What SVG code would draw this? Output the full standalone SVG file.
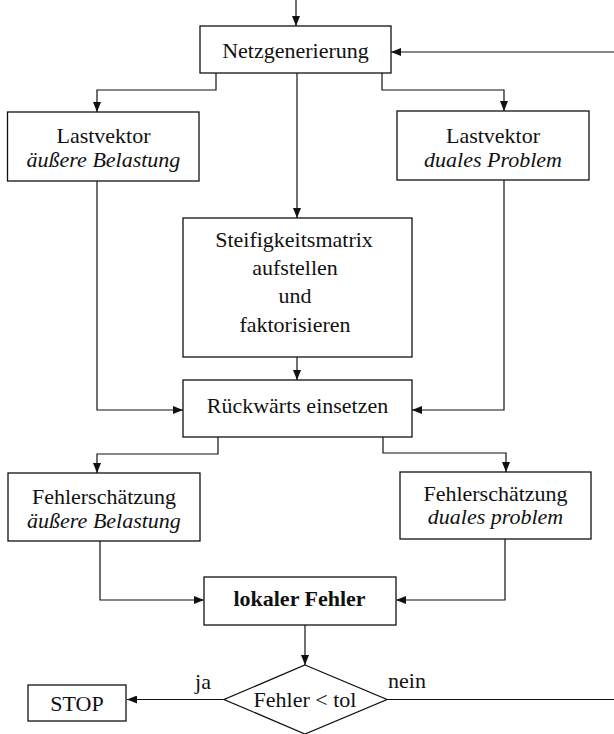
<svg xmlns="http://www.w3.org/2000/svg" width="614" height="734" viewBox="0 0 614 734">
  <style>
    .box { fill: #fff; stroke: #111; stroke-width: 1.3; }
    .wire { fill: none; stroke: #111; stroke-width: 1.2; }
    text { font-family: "Liberation Serif", "Times New Roman", serif; font-size: 22px; fill: #111; text-anchor: middle; }
    .it { font-style: italic; }
    .b { font-weight: bold; }
    .lbl { text-anchor: start; }
  </style>
  <defs>
    <marker id="arrow" viewBox="0 0 10 8" refX="10" refY="4" markerWidth="10" markerHeight="8" markerUnits="userSpaceOnUse" orient="auto">
      <path d="M0,0 L10,4 L0,8 z" fill="#111"/>
    </marker>
  </defs>

  <!-- connectors -->
  <g id="connectors" class="wire">
    <path d="M296,0 V26" marker-end="url(#arrow)"/>
    <path d="M614,52 H391" marker-end="url(#arrow)"/>
    <path d="M216,73 V90 H97 V112" marker-end="url(#arrow)"/>
    <path d="M297,73 V218" marker-end="url(#arrow)"/>
    <path d="M382,73 V90 H504 V111" marker-end="url(#arrow)"/>
    <path d="M97,181 V410 H183" marker-end="url(#arrow)"/>
    <path d="M504,180 V410 H412" marker-end="url(#arrow)"/>
    <path d="M297,357 V380" marker-end="url(#arrow)"/>
    <path d="M218,437 V454 H97 V473" marker-end="url(#arrow)"/>
    <path d="M383,437 V453 H506 V472" marker-end="url(#arrow)"/>
    <path d="M100,541 V600 H204" marker-end="url(#arrow)"/>
    <path d="M505,539 V600 H396" marker-end="url(#arrow)"/>
    <path d="M305,625 V665" marker-end="url(#arrow)"/>
    <path d="M224,699.5 H127" marker-end="url(#arrow)"/>
    <path d="M387,699.5 H614"/>
  </g>

  <g id="netzgenerierung">
    <rect class="box" x="200" y="26" width="191" height="47"/>
    <text x="295.5" y="58">Netzgenerierung</text>
  </g>

  <g id="lastvektor-aussen">
    <rect class="box" x="7.5" y="112" width="191.5" height="69"/>
    <text x="103.5" y="143">Lastvektor</text>
    <text class="it" x="103.5" y="167">äußere Belastung</text>
  </g>

  <g id="lastvektor-dual">
    <rect class="box" x="397" y="111" width="192" height="69"/>
    <text x="493" y="143">Lastvektor</text>
    <text class="it" x="493" y="167">duales Problem</text>
  </g>

  <g id="steifigkeitsmatrix">
    <rect class="box" x="183" y="218" width="229" height="139"/>
    <text x="294" y="247">Steifigkeitsmatrix</text>
    <text x="295" y="275">aufstellen</text>
    <text x="295" y="303">und</text>
    <text x="295" y="332">faktorisieren</text>
  </g>

  <g id="rueckwaerts">
    <rect class="box" x="183" y="380" width="229" height="57"/>
    <text x="297.5" y="413">Rückwärts einsetzen</text>
  </g>

  <g id="fehler-aussen">
    <rect class="box" x="8" y="473" width="192" height="68"/>
    <text x="104" y="504">Fehlerschätzung</text>
    <text class="it" x="104" y="528">äußere Belastung</text>
  </g>

  <g id="fehler-dual">
    <rect class="box" x="400" y="472" width="191" height="67"/>
    <text x="495.5" y="501">Fehlerschätzung</text>
    <text class="it" x="495.5" y="524">duales problem</text>
  </g>

  <g id="lokaler-fehler">
    <rect class="box" x="204" y="577" width="192" height="48"/>
    <text class="b" x="299.5" y="606">lokaler Fehler</text>
  </g>

  <g id="entscheidung">
    <polygon class="box" points="305,665 387,699.5 305,734 224,699.5"/>
    <text x="305" y="707">Fehler &lt; tol</text>
  </g>

  <g id="stop">
    <rect class="box" x="28" y="685" width="98" height="36"/>
    <text x="77" y="711">STOP</text>
  </g>

  <g id="labels">
    <text x="203" y="689">ja</text>
    <text class="lbl" x="388" y="688">nein</text>
  </g>
</svg>
